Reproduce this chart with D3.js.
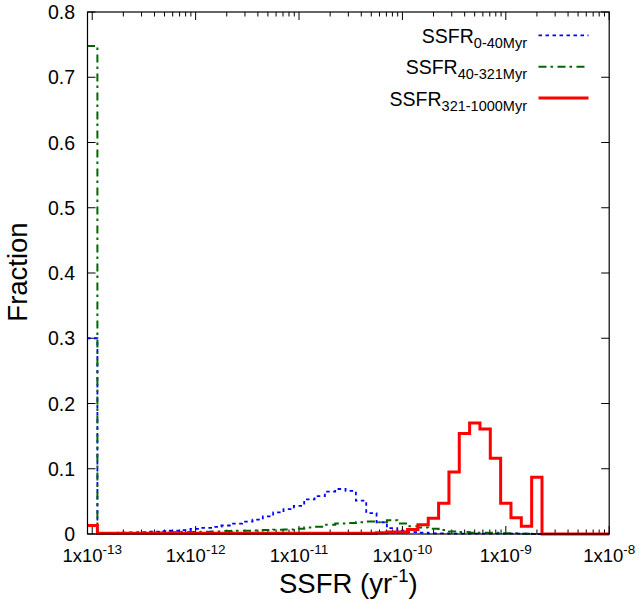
<!DOCTYPE html>
<html>
<head>
<meta charset="utf-8">
<script src="https://cdn.jsdelivr.net/npm/d3@7"></script>
<style>
  html, body { margin: 0; padding: 0; background: #fff; }
  svg { display: block; font-family: "Liberation Sans", Arial, sans-serif; }
</style>
</head>
<body>
<svg id="chart" width="644" height="601"></svg>
<script>
// log10 of SSFR at each bin centre (bins are 0.1 dex wide)
const logBinCentres = [
  -13.0, -12.9, -12.8, -12.7, -12.6, -12.5, -12.4, -12.3, -12.2, -12.1,
  -12.0, -11.9, -11.8, -11.7, -11.6, -11.5, -11.4, -11.3, -11.2, -11.1,
  -11.0, -10.9, -10.8, -10.7, -10.6, -10.5, -10.4, -10.3, -10.2, -10.1,
  -10.0,  -9.9,  -9.8,  -9.7,  -9.6,  -9.5,  -9.4,  -9.3,  -9.2,  -9.1,
   -9.0,  -8.9,  -8.8,  -8.7,  -8.6,  -8.5,  -8.4,  -8.3,  -8.2,  -8.1,
   -8.0
];

// fraction of galaxies per bin, SSFR averaged over 0-40 Myr
const frac0to40 = [
  0.300,
  0.001, 0.0015, 0.002, 0.0025, 0.003,
  0.0035, 0.0045, 0.005, 0.006,
  0.008, 0.0095, 0.011, 0.013, 0.016,
  0.019, 0.022, 0.027, 0.033, 0.038,
  0.043, 0.053, 0.058, 0.065, 0.069,
  0.066, 0.051, 0.032, 0.018, 0.009,
  0.005, 0.003, 0.002, 0.001, 0.001,
  0.0005, 0.0005, 0.0005, 0.0005, 0.0005,
  0.0005, 0.0005, 0.0005, 0, 0,
  0, 0, 0, 0, 0, 0
];

// SSFR averaged over 40-321 Myr
const frac40to321 = [
  0.748,
  0.001, 0.001, 0.0015, 0.0015, 0.002,
  0.002, 0.0025, 0.0025, 0.003,
  0.003, 0.0035, 0.004, 0.0045, 0.005,
  0.005, 0.0055, 0.006, 0.0065, 0.007,
  0.008, 0.010, 0.011, 0.014, 0.016,
  0.017, 0.018, 0.019, 0.018, 0.021,
  0.016, 0.012, 0.010, 0.008, 0.006,
  0.004, 0.003, 0.002, 0.002, 0.002,
  0.001, 0.001, 0.0005, 0, 0,
  0, 0, 0, 0, 0, 0
];

// SSFR averaged over 321-1000 Myr
const frac321to1000 = [
  0.013,
  0.001, 0.001, 0.001, 0.001, 0.001,
  0.001, 0.001, 0.001, 0.001,
  0.001, 0.001, 0.001, 0.001, 0.001,
  0.001, 0.001, 0.001, 0.001, 0.001,
  0.001, 0.001, 0.001, 0.001, 0.001,
  0.001, 0.001, 0.001, 0.002, 0.003,
  0.003, 0.007, 0.014, 0.024, 0.047,
  0.095, 0.154, 0.170, 0.161, 0.116,
  0.047, 0.025, 0.012, 0.087, 0,
  0, 0, 0, 0, 0, 0
];

const yTickValues = [0, 0.1, 0.2, 0.3, 0.4, 0.5, 0.6, 0.7, 0.8];
const xTickExponents = [-13, -12, -11, -10, -9, -8];

const seriesDefs = [
  { label: "SSFR", sub: "0-40Myr",     values: frac0to40,     color: "#0000ff", width: 1.8, dash: "3.5,3.5" },
  { label: "SSFR", sub: "40-321Myr",   values: frac40to321,   color: "#006400", width: 2,   dash: "8,4,2.5,4.5" },
  { label: "SSFR", sub: "321-1000Myr", values: frac321to1000, color: "#ff0000", width: 3,   dash: null }
];

const plot = { left: 87.5, right: 609.2, top: 12, bottom: 534 };
const svg = d3.select("#chart");

const x = d3.scaleLog().domain([9e-14, 1e-8]).range([plot.left, plot.right]);
const y = d3.scaleLinear().domain([0, 0.8]).range([plot.bottom, plot.top]);

svg.append("defs").append("clipPath").attr("id", "plotClip")
  .append("rect")
  .attr("x", plot.left).attr("y", plot.top - 2)
  .attr("width", plot.right - plot.left).attr("height", plot.bottom - plot.top + 4);

// tick marks, drawn inward on all four sides
const tickG = svg.append("g").attr("stroke", "#000").attr("stroke-width", 1);
const majorLen = 8, minorLen = 4.5;

xTickExponents.forEach(e => {
  const px = x(Math.pow(10, e));
  tickG.append("line").attr("x1", px).attr("x2", px).attr("y1", plot.bottom).attr("y2", plot.bottom - majorLen);
  tickG.append("line").attr("x1", px).attr("x2", px).attr("y1", plot.top).attr("y2", plot.top + majorLen);
});
xTickExponents.slice(0, -1).forEach(e => {
  for (let m = 2; m <= 9; m++) {
    const px = x(m * Math.pow(10, e));
    tickG.append("line").attr("x1", px).attr("x2", px).attr("y1", plot.bottom).attr("y2", plot.bottom - minorLen);
    tickG.append("line").attr("x1", px).attr("x2", px).attr("y1", plot.top).attr("y2", plot.top + minorLen);
  }
});
yTickValues.forEach(v => {
  const py = y(v);
  tickG.append("line").attr("x1", plot.left).attr("x2", plot.left + majorLen).attr("y1", py).attr("y2", py);
  tickG.append("line").attr("x1", plot.right).attr("x2", plot.right - majorLen).attr("y1", py).attr("y2", py);
});

// histograms as step lines across bin edges
const stepLine = d3.line().x(d => x(d[0])).y(d => y(d[1])).curve(d3.curveStepAfter);
const histG = svg.append("g").attr("clip-path", "url(#plotClip)");
seriesDefs.forEach(s => {
  const pts = logBinCentres.map((c, i) => [Math.pow(10, c - 0.05), s.values[i]]);
  const last = logBinCentres.length - 1;
  pts.push([Math.pow(10, logBinCentres[last] + 0.05), s.values[last]]);
  histG.append("path")
    .attr("d", stepLine(pts))
    .attr("fill", "none")
    .attr("stroke", s.color)
    .attr("stroke-width", s.width)
    .attr("stroke-dasharray", s.dash)
    .attr("stroke-linejoin", "miter");
});

// frame
svg.append("rect")
  .attr("x", plot.left).attr("y", plot.top)
  .attr("width", plot.right - plot.left).attr("height", plot.bottom - plot.top)
  .attr("fill", "none").attr("stroke", "#000").attr("stroke-width", 1.2);

// y tick labels
svg.append("g").selectAll("text").data(yTickValues).join("text")
  .attr("x", 75).attr("y", d => y(d) + 7)
  .attr("text-anchor", "end")
  .attr("font-size", 19.5)
  .attr("fill", "#000")
  .text(d => d === 0 ? "0" : d3.format(".1f")(d));

// x tick labels: 1x10^n
const xLab = svg.append("g").selectAll("text").data(xTickExponents).join("text")
  .attr("x", d => x(Math.pow(10, d)))
  .attr("y", 562)
  .attr("text-anchor", "middle")
  .attr("font-size", 18.5)
  .attr("fill", "#000");
xLab.append("tspan").text("1x10");
xLab.append("tspan").attr("dy", -8).attr("font-size", 13.5).text(d => String(d));

// axis titles
const xTitle = svg.append("text")
  .attr("x", (plot.left + plot.right) / 2).attr("y", 593)
  .attr("text-anchor", "middle").attr("font-size", 27.5).attr("fill", "#000");
xTitle.append("tspan").text("SSFR (yr");
xTitle.append("tspan").attr("dy", -11).attr("font-size", 18.5).text("-1");
xTitle.append("tspan").attr("dy", 11).text(")");

svg.append("text")
  .attr("transform", "translate(27,272) rotate(-90)")
  .attr("text-anchor", "middle").attr("font-size", 27.5).attr("fill", "#000")
  .text("Fraction");

// legend
const legendRows = [35.3, 66.7, 98];
seriesDefs.forEach((s, i) => {
  const ly = legendRows[i];
  const t = svg.append("text")
    .attr("x", 527).attr("y", ly + 7.5)
    .attr("text-anchor", "end").attr("font-size", 19.5).attr("fill", "#000");
  t.append("tspan").text(s.label);
  t.append("tspan").attr("dy", 5).attr("font-size", 14.5).text(s.sub);
  svg.append("line")
    .attr("x1", 538.5).attr("x2", 588.5).attr("y1", ly).attr("y2", ly)
    .attr("stroke", s.color).attr("stroke-width", s.width)
    .attr("stroke-dasharray", s.dash);
});
</script>
</body>
</html>
